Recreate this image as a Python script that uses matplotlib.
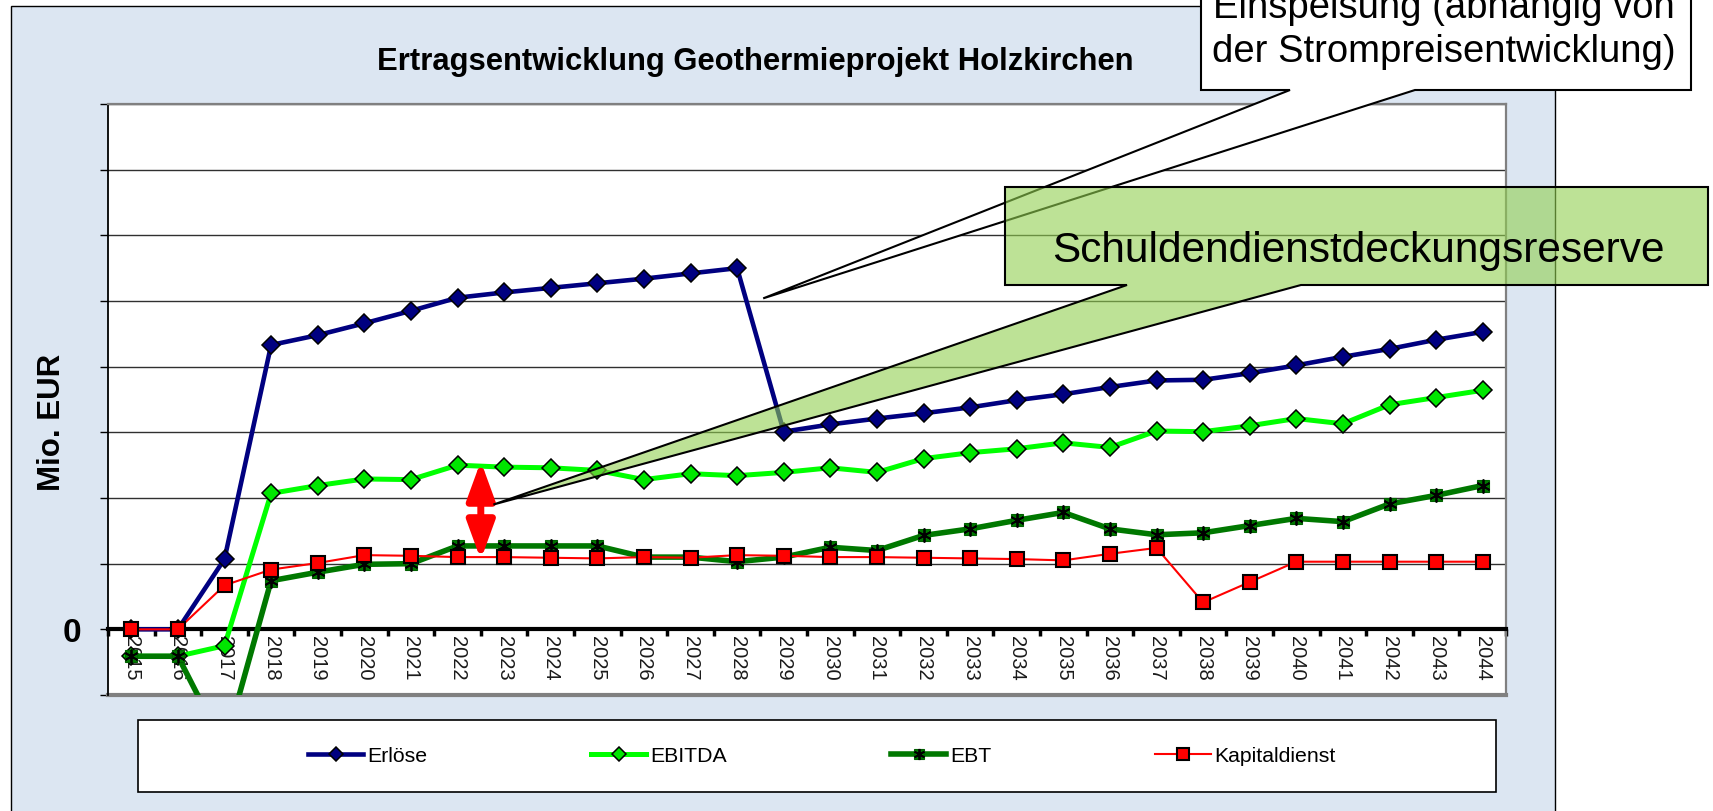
import matplotlib
matplotlib.use('Agg')
import matplotlib.pyplot as plt
from matplotlib.patches import Rectangle, Polygon
from matplotlib.legend_handler import HandlerTuple
import numpy as np

plt.rcParams['font.family'] = ['Liberation Sans', 'DejaVu Sans']

# ---------------- data ----------------
years = list(range(2015, 2045))
year_labels = [str(y) for y in years]
erloese = [0, 0, 1.07, 4.33, 4.48, 4.66, 4.85, 5.05, 5.13, 5.20, 5.27, 5.34, 5.42, 5.50,
           3.01, 3.12, 3.21, 3.29, 3.38, 3.49, 3.58, 3.69, 3.79, 3.80, 3.90, 4.02, 4.15,
           4.27, 4.41, 4.53]
ebitda = [-0.41, -0.41, -0.25, 2.07, 2.19, 2.29, 2.28, 2.50, 2.47, 2.46, 2.42, 2.28, 2.37,
          2.34, 2.39, 2.46, 2.39, 2.60, 2.69, 2.75, 2.84, 2.77, 3.02, 3.01, 3.10, 3.21,
          3.13, 3.42, 3.53, 3.64]
ebt = [-0.41, -0.41, -1.8, 0.74, 0.87, 0.99, 1.00, 1.27, 1.27, 1.27, 1.27, 1.10, 1.10,
       1.03, 1.10, 1.25, 1.20, 1.43, 1.53, 1.66, 1.78, 1.53, 1.44, 1.47, 1.58, 1.69,
       1.64, 1.91, 2.04, 2.19]
kapitaldienst = [0, 0, 0.67, 0.91, 1.01, 1.13, 1.12, 1.10, 1.10, 1.09, 1.08, 1.10, 1.09,
                 1.13, 1.12, 1.10, 1.10, 1.09, 1.08, 1.07, 1.05, 1.15, 1.24, 0.41, 0.72,
                 1.03, 1.03, 1.03, 1.03, 1.03]
series_names = ['Erlöse', 'EBITDA', 'EBT', 'Kapitaldienst']
y_ticks = list(range(-1, 9))
y_tick_labels = ['0' if v == 0 else '' for v in y_ticks]
title = 'Ertragsentwicklung Geothermieprojekt Holzkirchen'
y_label = 'Mio. EUR'
callout1_lines = ['Einspeisung (abhängig von', 'der Strompreisentwicklung)']
callout2_text = 'Schuldendienstdeckungsreserve'

# ---------------- figure ----------------
W, H = 1713, 812
fig = plt.figure(figsize=(W / 100, H / 100), dpi=100)
fig.patch.set_facecolor('white')


def fx(px):
    return px / W


def fy(py):
    return 1 - py / H


# chart frame
frame = Rectangle((fx(11), fy(840)), fx(1555) - fx(11), fy(7) - fy(840),
                  transform=fig.transFigure, facecolor='#DCE6F2', edgecolor='black',
                  lw=1.0, zorder=-5)
fig.add_artist(frame)

ax = fig.add_axes([fx(108), fy(696), fx(1506) - fx(108), (696 - 105) / H])
ax.set_facecolor('white')
x = np.arange(len(years))

l1, = ax.plot(x, erloese, color='#000080', lw=3.3, marker='D', ms=9.5, mfc='#000080',
              mec='black', mew=1.1, zorder=3)
l2, = ax.plot(x, ebitda, color='#00FF00', lw=3.6, marker='D', ms=9.5, mfc='#00E600',
              mec='black', mew=1.1, zorder=3.1)
l3, = ax.plot(x, ebt, color='#007800', lw=4.0, marker='s', ms=9, mfc='#007800',
              mec='#006000', mew=0.8, zorder=3.2)
l3s, = ax.plot(x, ebt, ls='none', marker=(6, 2, 0), ms=10, mec='black', mew=1.3,
               zorder=3.3)
l4, = ax.plot(x, kapitaldienst, color='#FF0000', lw=1.5, marker='s', ms=10.5,
              mfc='#FF0000', mec='black', mew=1.5, zorder=3.4)

ax.set_xlim(-0.5, len(years) - 0.5)
ax.set_ylim(-1, 8)

# y axis
ax.set_yticks(y_ticks)
ax.set_yticklabels(y_tick_labels)
ax.tick_params(axis='y', direction='out', length=6, width=1, colors='black',
               labelsize=24, pad=13)
for t in ax.get_yticklabels():
    t.set_fontweight('bold')
ax.yaxis.grid(True, color='#303030', lw=1.0)
ax.set_axisbelow(True)

# x axis at zero
ax.spines['bottom'].set_position(('data', 0))
ax.spines['bottom'].set_linewidth(3)
ax.spines['bottom'].set_color('black')
ax.spines['bottom'].set_zorder(2.5)
ax.set_xticks(x)
ax.set_xticklabels(year_labels, rotation=-90, fontsize=14.5, color='#1a1a1a')
ax.set_xticks(np.arange(-0.5, len(years), 1), minor=True)
ax.tick_params(axis='x', which='major', length=0, pad=4)
ax.tick_params(axis='x', which='minor', direction='out', length=5, width=2.5, color='black')
ax.spines['left'].set_color('black')
ax.spines['left'].set_linewidth(1.3)
for s in ['top', 'right']:
    ax.spines[s].set_color('#808080')
    ax.spines[s].set_linewidth(1.6)
ax.axhline(-1, color='#808080', lw=3, clip_on=False, zorder=2)

# red double arrow (Schuldendienstdeckungsreserve)
ax.annotate('', xy=(7.5, ebitda[7] + 0.06), xytext=(7.5, kapitaldienst[7] - 0.04),
            arrowprops=dict(arrowstyle='<|-|>,head_length=1.15,head_width=0.42',
                            color='#FF0000', lw=5, shrinkA=0, shrinkB=0,
                            mutation_scale=20),
            zorder=6, annotation_clip=False)

# title and axis label
fig.text(fx(755), fy(62), title, ha='center', va='center', fontsize=22.3, fontweight='bold')
fig.text(fx(52), fy(422), y_label, rotation=90, ha='center', va='center',
         fontsize=22.5, fontweight='bold')

# legend
leg_box = Rectangle((fx(138), fy(793)), fx(1496) - fx(138), fy(721) - fy(793),
                    transform=fig.transFigure, facecolor='white', edgecolor='black',
                    lw=1.2, zorder=1)
fig.add_artist(leg_box)
leg = fig.legend([l1, l2, (l3, l3s), l4], series_names, loc='center',
                 bbox_to_anchor=(fx(822), fy(757)), ncol=4, frameon=False, fontsize=15.3,
                 handlelength=2.6, handletextpad=0.2, columnspacing=7.7, numpoints=1,
                 markerscale=0.8,
                 handler_map={tuple: HandlerTuple(ndivide=1, pad=0)})
leg.set_zorder(2)


# callouts
def data_to_fig(xd, yd):
    return fig.transFigure.inverted().transform(ax.transData.transform((xd, yd)))


tip1 = data_to_fig(13.56, 5.04)
poly1 = [(fx(1201), fy(-30)), (fx(1201), fy(91)), (fx(1290), fy(91)), tuple(tip1),
         (fx(1415), fy(91)), (fx(1691), fy(91)), (fx(1691), fy(-30))]
fig.add_artist(Polygon(poly1, closed=True, transform=fig.transFigure, facecolor='white',
                       edgecolor='black', lw=1.5, zorder=6))
fig.text(fx(1444), fy(18), callout1_lines[0], ha='center', va='baseline', fontsize=27.5,
         zorder=8)
fig.text(fx(1444), fy(62), callout1_lines[1], ha='center', va='baseline', fontsize=27.5,
         zorder=8)

tip2 = data_to_fig(7.77, 1.90)
poly2 = [(fx(1005), fy(188)), (fx(1005), fy(286)), (fx(1127), fy(286)), tuple(tip2),
         (fx(1301), fy(286)), (fx(1708), fy(286)), (fx(1708), fy(188))]
fig.add_artist(Polygon(poly2, closed=True, transform=fig.transFigure,
                       facecolor=(0.573, 0.816, 0.314, 0.6), edgecolor='black', lw=1.5,
                       zorder=7))
fig.text(fx(1358), fy(262), callout2_text, ha='center', va='baseline', fontsize=30.5,
         zorder=8)

fig.savefig('out.png', dpi=100)
